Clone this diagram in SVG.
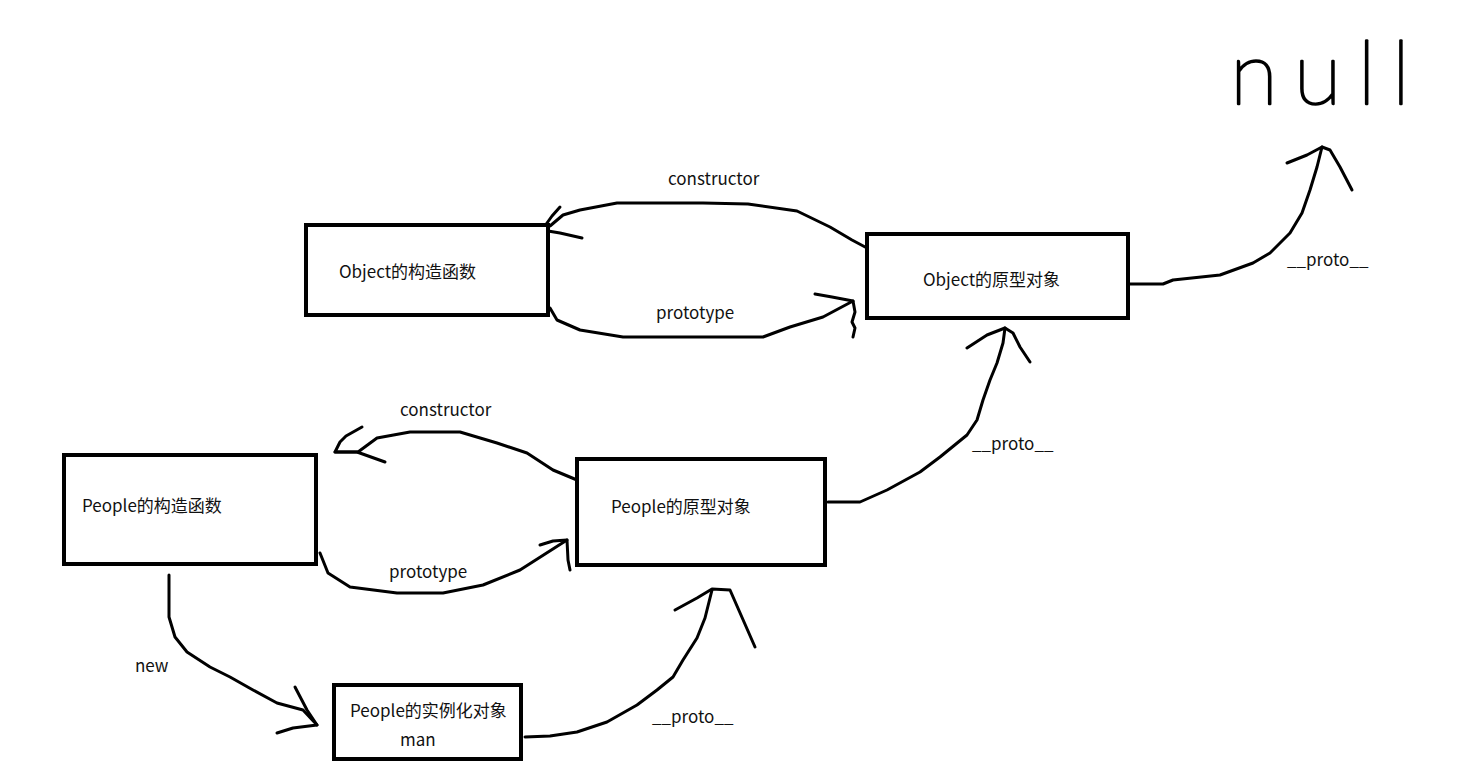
<svg xmlns="http://www.w3.org/2000/svg" width="1461" height="778" viewBox="0 0 1461 778">
<style>
.box{fill:#fff;stroke:#000;stroke-width:4}
.ln{fill:none;stroke:#000;stroke-width:3;stroke-linecap:round;stroke-linejoin:round}
.t{font-family:"Noto Sans CJK SC","Noto Sans",sans-serif;font-size:17px;fill:#111}
.hand{font-family:Lato,Inter,"DejaVu Sans",sans-serif;font-weight:100;font-size:88px;fill:#000;stroke:#000;stroke-width:2.5;stroke-linejoin:round;letter-spacing:16px}
</style>
<rect width="1461" height="778" fill="#fff"/>
<g id="connectors">
<path class="ln" d="M867,248 L852,240 L830,227 L797,211 L748,204 L703,203 L617,203 L580,210 L563,215 L550,226 L542,230"/>
<path class="ln" d="M560,207 L552,216 L542,230 L560,233 L582,238"/>
<path class="ln" d="M550,308 L557,320 L580,330 L623,337 L763,337 L790,327 L823,317 L853,301"/>
<path class="ln" d="M815,294 L832,297 L853,301 L855,312 L852,322 L855,328 L853,337"/>
<path class="ln" d="M577,480 L553,470 L527,453 L497,443 L460,432 L410,432 L377,438 L358,452 L335,452"/>
<path class="ln" d="M362,427 L346,436 L340,442 L335,452 L357,452 L385,462"/>
<path class="ln" d="M320,553 L328,573 L350,587 L397,593 L443,593 L483,585 L520,570 L567,540"/>
<path class="ln" d="M540,545 L553,541 L567,540 L568,560 L570,570"/>
<path class="ln" d="M169,575 L169,617 L175,637 L187,652 L210,667 L230,677 L253,690 L277,703 L303,710 L317,725"/>
<path class="ln" d="M295,687 L307,710 L317,725 L293,728 L277,733"/>
<path class="ln" d="M525,737 L550,736 L577,732 L607,722 L637,705 L657,690 L673,677 L683,660 L697,638 L705,618 L712,590"/>
<path class="ln" d="M675,610 L697,598 L712,589 L730,590 L755,647"/>
<path class="ln" d="M828,502 L860,502 L887,490 L920,472 L940,457 L967,435 L977,420 L983,400 L990,380 L997,363 L1003,343 L1005,328"/>
<path class="ln" d="M967,348 L987,335 L1005,328 L1013,333 L1020,347 L1030,362"/>
<path class="ln" d="M1130,284 L1163,284 L1173,280 L1220,275 L1253,263 L1270,253 L1290,233 L1302,213 L1310,190 L1317,167 L1322,147"/>
<path class="ln" d="M1287,163 L1307,155 L1322,147 L1330,150 L1340,167 L1352,190"/>
</g>
<g id="object-constructor">
<rect class="box" x="306" y="225" width="242" height="90"/>
<text class="t" x="339" y="278">Object的构造函数</text>
</g>
<g id="object-prototype">
<rect class="box" x="867" y="234" width="261" height="84"/>
<text class="t" x="923" y="286">Object的原型对象</text>
</g>
<g id="people-constructor">
<rect class="box" x="64" y="455" width="252" height="109"/>
<text class="t" x="82" y="512">People的构造函数</text>
</g>
<g id="people-prototype">
<rect class="box" x="577" y="459" width="248" height="106"/>
<text class="t" x="611" y="513">People的原型对象</text>
</g>
<g id="people-instance">
<rect class="box" x="334" y="685" width="187" height="74"/>
<text class="t" x="350" y="717">People的实例化对象</text>
<text class="t" x="400" y="746">man</text>
</g>
<g id="labels">
<text class="t" x="668" y="185">constructor</text>
<text class="t" x="656" y="319">prototype</text>
<text class="t" x="400" y="416">constructor</text>
<text class="t" x="389" y="578">prototype</text>
<text class="t" x="135" y="672">new</text>
<text class="t" x="1287" y="266">__proto__</text>
<text class="t" x="972" y="450">__proto__</text>
<text class="t" x="652" y="723">__proto__</text>
</g>
<g id="null">
<text class="hand" x="1230" y="104">null</text>
</g>
</svg>
